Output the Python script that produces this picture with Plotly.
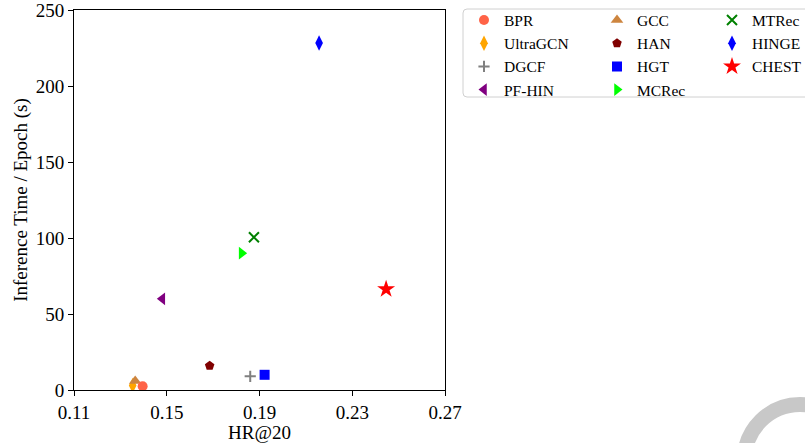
import plotly.graph_objects as go

W, H = 805, 443

methods = ["BPR", "UltraGCN", "DGCF", "PF-HIN", "GCC", "HAN", "HGT", "MCRec", "MTRec", "HINGE", "CHEST"]
hr20 = [0.1396, 0.1353, 0.1860, 0.1481, 0.1364, 0.1685, 0.1922, 0.1823, 0.1876, 0.2157, 0.2446]
infer_time = [2.5, 3.0, 9.0, 60.0, 6.0, 16.0, 10.0, 90.0, 100.5, 228.3, 66.3]

colors = ["#FF6347", "#FFA500", "#808080", "#800080", "#CD853F", "#800000", "#0000FF", "#00FF00", "#008000", "#0000FF", "#FF0000"]
symbols = ["circle", "diamond-tall", "cross-thin", "triangle-left", "triangle-up", "pentagon", "square",
           "triangle-right", "x-thin", "diamond-tall", "star"]
sizes = [10, 11, 8, 11, 11, 10, 10, 11, 10, 11, 13.5]
legend_col = ["legend", "legend", "legend", "legend", "legend2", "legend2", "legend2", "legend2",
              "legend3", "legend3", "legend3"]
draw_order = [1, 4, 0, 2, 3, 5, 6, 7, 8, 9, 10]  # UltraGCN, GCC, BPR drawn first-to-last

x_ticks = [0.11, 0.15, 0.19, 0.23, 0.27]
y_ticks = [0, 50, 100, 150, 200, 250]

FONT = "Liberation Serif"

fig = go.Figure()
for i in draw_order:
    m = methods[i]
    thin = symbols[i].endswith("-thin")
    fig.add_trace(go.Scatter(
        x=[hr20[i]], y=[infer_time[i]], mode="markers", name=m,
        legend=legend_col[i], legendrank=i + 1,
        marker=dict(symbol=symbols[i], size=sizes[i], color=colors[i],
                    line=dict(width=2 if thin else 0, color=colors[i])),
    ))

px_x = lambda p: p / W
px_y = lambda p: 1 - p / H

axis_common = dict(
    showline=True, linecolor="black", linewidth=1, mirror=True,
    ticks="outside", ticklen=5, tickwidth=1, tickcolor="black",
    showgrid=False, zeroline=False, automargin=False, ticklabeloverflow="allow",
    tickfont=dict(family=FONT, size=19, color="black"),
)

fig.update_layout(
    width=W, height=H,
    margin=dict(l=0, r=0, t=0, b=0, autoexpand=False),
    paper_bgcolor="white", plot_bgcolor="white",
    font=dict(family=FONT, size=19, color="black"),
    xaxis=dict(domain=[px_x(74), px_x(445)], range=[0.11, 0.27], tickvals=x_ticks,
               ticktext=[f"{v:.2f}" for v in x_ticks],
               title=dict(text="HR@20", font=dict(family=FONT, size=19), standoff=2), **axis_common),
    yaxis=dict(domain=[px_y(390), px_y(10)], range=[0, 250], tickvals=y_ticks,
               title=dict(text="Inference Time / Epoch (s)", font=dict(family=FONT, size=19), standoff=3),
               **axis_common),
)

leg_common = dict(orientation="v", xanchor="left", yanchor="top", y=px_y(3.5),
                  bgcolor="rgba(0,0,0,0)", borderwidth=0, tracegroupgap=0,
                  font=dict(family=FONT, size=15.5, color="black"))
fig.update_layout(
    legend=dict(x=px_x(464), **leg_common),
    legend2=dict(x=px_x(597), **leg_common),
    legend3=dict(x=px_x(712), **leg_common),
)

# legend frame (rounded)
x0, x1, y0, y1, r = px_x(463), px_x(830), px_y(9), px_y(97), 4
rx, ry = r / W, r / H
path = (f"M {x0 + rx},{y0} L {x1 - rx},{y0} Q {x1},{y0} {x1},{y0 - ry} "
        f"L {x1},{y1 + ry} Q {x1},{y1} {x1 - rx},{y1} L {x0 + rx},{y1} Q {x0},{y1} {x0},{y1 + ry} "
        f"L {x0},{y0 - ry} Q {x0},{y0} {x0 + rx},{y0} Z")
fig.add_shape(type="path", xref="paper", yref="paper", path=path,
              line=dict(color="#d0d0d0", width=1), fillcolor="rgba(0,0,0,0)", layer="above")

# faint watermark ring at the bottom-right corner
cx, cy, rr = 800, 460, 55.5
fig.add_shape(type="circle", xref="paper", yref="paper",
              x0=px_x(cx - rr), x1=px_x(cx + rr), y0=px_y(cy + rr), y1=px_y(cy - rr),
              line=dict(color="#c8c8c8", width=15), layer="below")

fig.write_html("out.html", config={"displayModeBar": False},
               post_script="document.body.style.margin='0';document.body.style.overflow='hidden';")
